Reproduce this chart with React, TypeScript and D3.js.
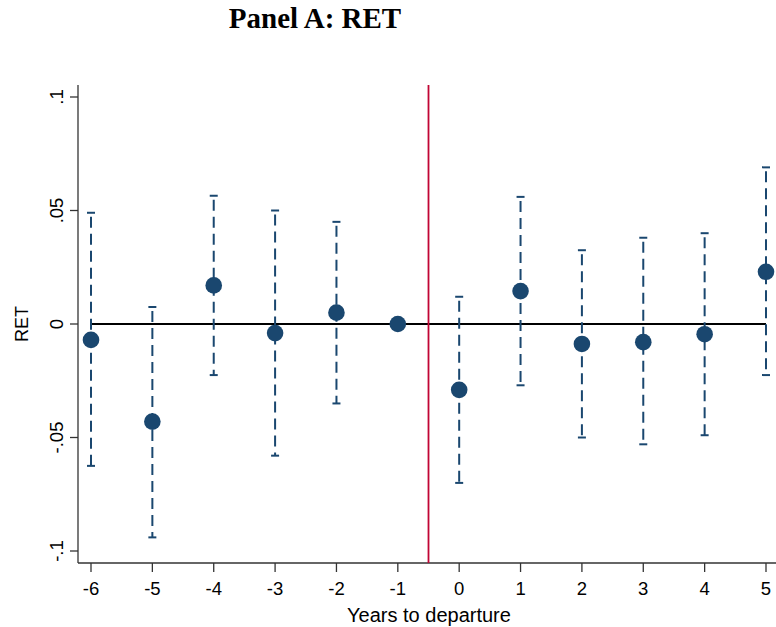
import React from "react";
import * as d3 from "d3";

const years = [-6, -5, -4, -3, -2, -1, 0, 1, 2, 3, 4, 5];
const coef = [-0.007, -0.043, 0.017, -0.004, 0.005, 0, -0.029, 0.0145, -0.0088, -0.008, -0.0045, 0.023];
const upper = [0.049, 0.0075, 0.0565, 0.05, 0.045, null, 0.012, 0.056, 0.0325, 0.038, 0.04, 0.069];
const lower = [-0.0625, -0.094, -0.0225, -0.058, -0.035, null, -0.07, -0.027, -0.05, -0.053, -0.049, -0.0225];
const yTicks = [0.1, 0.05, 0, -0.05, -0.1];
const yTickLabels = [".1", ".05", "0", "-.05", "-.1"];

const W = 776, H = 627;
const navy = "#1a476f";
const red = "#c10534";
const sans = "'Liberation Sans', Arial, sans-serif";

export default function App() {
  const x = d3.scaleLinear().domain([-6, 5]).range([91, 766]);
  const y = d3.scaleLinear().domain([-0.1, 0.1]).range([551, 97]);
  const left = 78, bottom = 563, top = 85, right = 776;
  return (
    <svg width={W} height={H} style={{ position: "absolute", left: 0, top: 0, background: "#fff" }}>
      <rect width={W} height={H} fill="#fff" />
      <text x={315} y={28} textAnchor="middle" fontFamily="'Liberation Serif', 'Times New Roman', serif" fontWeight="bold" fontSize={29} fill="#000">Panel A: RET</text>
      {/* axes */}
      <line x1={left} x2={left} y1={top} y2={bottom} stroke="#333" strokeWidth={1.3} />
      <line x1={left} x2={right} y1={bottom} y2={bottom} stroke="#333" strokeWidth={1.3} />
      {yTicks.map((t, i) => (
        <g key={i}>
          <line x1={left - 8} x2={left} y1={y(t)} y2={y(t)} stroke="#333" strokeWidth={1.3} />
          <text transform={`translate(${left - 15},${y(t)}) rotate(-90)`} textAnchor="middle" fontFamily={sans} fontSize={18.5} fill="#000">{yTickLabels[i]}</text>
        </g>
      ))}
      {years.map((t) => (
        <g key={t}>
          <line x1={x(t)} x2={x(t)} y1={bottom} y2={bottom + 9} stroke="#333" strokeWidth={1.3} />
          <text x={x(t)} y={595} textAnchor="middle" fontFamily={sans} fontSize={18.5} fill="#000">{t}</text>
        </g>
      ))}
      <text transform={`translate(28,${y(0)}) rotate(-90)`} textAnchor="middle" fontFamily={sans} fontSize={18} fill="#000">RET</text>
      <text x={429} y={622} textAnchor="middle" fontFamily={sans} fontSize={20} fill="#000">Years to departure</text>
      {/* zero line */}
      <line x1={x(-6)} x2={x(5)} y1={y(0)} y2={y(0)} stroke="#000" strokeWidth={1.8} />
      {/* red line */}
      <line x1={x(-0.5)} x2={x(-0.5)} y1={top} y2={bottom} stroke={red} strokeWidth={1.8} />
      {/* error bars */}
      {years.map((t, i) => {
        const u = upper[i], l = lower[i];
        if (u == null || l == null) return null;
        return (
          <g key={"e" + t} stroke={navy} strokeWidth={2}>
            <line x1={x(t)} x2={x(t)} y1={y(u)} y2={y(l)} strokeDasharray="11,6" strokeDashoffset={-4} />
            <line x1={x(t) - 4} x2={x(t) + 4} y1={y(u)} y2={y(u)} />
            <line x1={x(t) - 4} x2={x(t) + 4} y1={y(l)} y2={y(l)} />
          </g>
        );
      })}
      {years.map((t, i) => (
        <circle key={"p" + t} cx={x(t)} cy={y(coef[i])} r={8.3} fill={navy} />
      ))}
    </svg>
  );
}
